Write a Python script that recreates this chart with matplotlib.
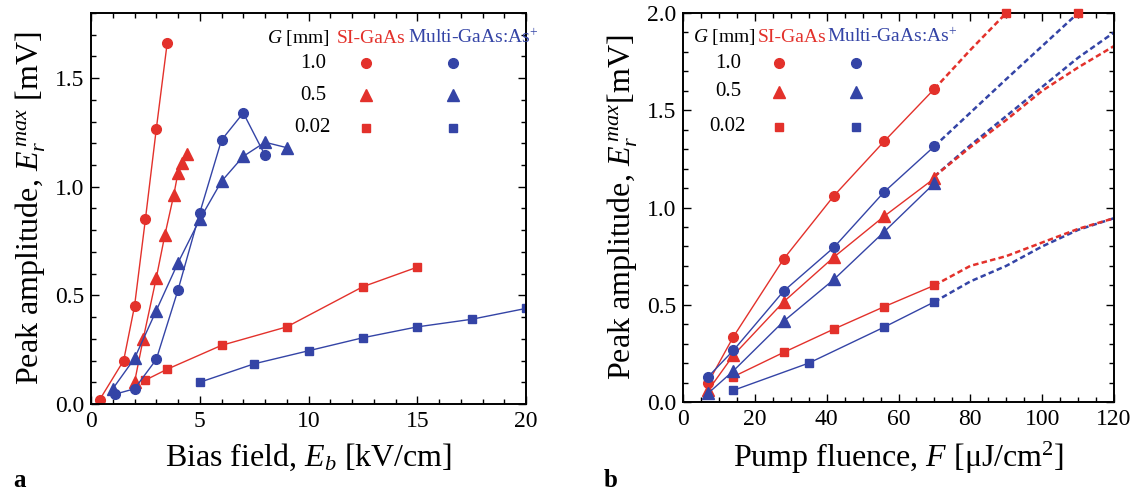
import matplotlib.pyplot as plt
from matplotlib.ticker import MultipleLocator

plt.rcParams["font.family"] = ["Liberation Serif", "DejaVu Serif"]
plt.rcParams["mathtext.fontset"] = "custom"
plt.rcParams["mathtext.rm"] = "Liberation Serif"
plt.rcParams["mathtext.it"] = "Liberation Serif:italic"

RED = "#e3312b"
BLUE = "#3444a6"

# ---- panel a: amplitude vs bias field ----
eb_si_10 = [0.4, 1.5, 2.0, 2.5, 3.0, 3.5]
amp_si_10 = [0.02, 0.20, 0.45, 0.85, 1.265, 1.66]
eb_si_05 = [2.0, 2.4, 3.0, 3.4, 3.8, 4.0, 4.2, 4.4]
amp_si_05 = [0.10, 0.30, 0.58, 0.78, 0.96, 1.065, 1.11, 1.15]
eb_si_002 = [2.5, 3.5, 6.0, 9.0, 12.5, 15.0]
amp_si_002 = [0.11, 0.16, 0.27, 0.355, 0.54, 0.63]

eb_mu_10 = [1.1, 2.0, 3.0, 4.0, 5.0, 6.0, 7.0, 8.0]
amp_mu_10 = [0.045, 0.07, 0.205, 0.525, 0.88, 1.215, 1.34, 1.145]
eb_mu_05 = [1.0, 2.0, 3.0, 4.0, 5.0, 6.0, 7.0, 8.0, 9.0]
amp_mu_05 = [0.07, 0.21, 0.43, 0.65, 0.85, 1.025, 1.14, 1.205, 1.18]
eb_mu_002 = [5.0, 7.5, 10.0, 12.5, 15.0, 17.5, 20.0]
amp_mu_002 = [0.10, 0.185, 0.245, 0.305, 0.355, 0.39, 0.44]

# ---- panel b: amplitude vs pump fluence ----
fl = [7, 14, 28, 42, 56, 70]
amp_si_10_b = [0.10, 0.335, 0.735, 1.06, 1.34, 1.61]
amp_si_05_b = [0.06, 0.24, 0.515, 0.745, 0.955, 1.15]
fl_si_002 = [14, 28, 42, 56, 70]
amp_si_002_b = [0.13, 0.255, 0.375, 0.49, 0.60]
amp_mu_10_b = [0.13, 0.265, 0.57, 0.795, 1.08, 1.315]
amp_mu_05_b = [0.045, 0.16, 0.415, 0.63, 0.875, 1.125]
fl_mu_002 = [14, 35, 56, 70]
amp_mu_002_b = [0.06, 0.20, 0.385, 0.515]

# dashed extrapolations
fl_si_10_ext = [70, 80, 90, 100]
amp_si_10_ext = [1.61, 1.81, 2.0, 2.19]
fl_mu_10_ext = [70, 90, 110, 120]
amp_mu_10_ext = [1.315, 1.66, 2.0, 2.17]
fl_05_ext = [70, 80, 90, 100, 110, 120]
amp_si_05_ext = [1.16, 1.31, 1.45, 1.60, 1.72, 1.83]
amp_mu_05_ext = [1.16, 1.32, 1.47, 1.62, 1.77, 1.90]
fl_002_ext = [70, 80, 90, 100, 110, 120]
amp_si_002_ext = [0.60, 0.70, 0.75, 0.82, 0.89, 0.945]
amp_mu_002_ext = [0.515, 0.62, 0.70, 0.80, 0.885, 0.945]
fl_top = [90, 110]
amp_top = [2.0, 2.0]

gap_labels = ["1.0", "0.5", "0.02"]
gap_markers = ["o", "^", "s"]
msize = {"o": 7, "^": 8, "s": 6}

fig = plt.figure(figsize=(11.32, 4.96), dpi=100)
ax1 = fig.add_axes([0.0804, 0.1855, 0.3843, 0.7883])
ax2 = fig.add_axes([0.6034, 0.1895, 0.3807, 0.7843])


def series(ax, x, y, color, m, **kw):
    ax.plot(x, y, color=color, lw=1.0, marker=m, ms=msize[m],
            mec=color, mfc=color, **kw)


series(ax1, eb_si_10, amp_si_10, RED, "o")
series(ax1, eb_si_05, amp_si_05, RED, "^")
series(ax1, eb_si_002, amp_si_002, RED, "s")
series(ax1, eb_mu_10, amp_mu_10, BLUE, "o")
series(ax1, eb_mu_05, amp_mu_05, BLUE, "^")
series(ax1, eb_mu_002, amp_mu_002, BLUE, "s")

dash = (0, (2.2, 1.3))
for x, y, c in [(fl_si_10_ext, amp_si_10_ext, RED),
                (fl_mu_10_ext, amp_mu_10_ext, BLUE),
                (fl_05_ext, amp_mu_05_ext, BLUE),
                (fl_05_ext, amp_si_05_ext, RED),
                (fl_002_ext, amp_mu_002_ext, BLUE),
                (fl_002_ext, amp_si_002_ext, RED)]:
    ax2.plot(x, y, color=c, lw=1.8, ls=dash)

series(ax2, fl, amp_si_10_b, RED, "o")
series(ax2, fl, amp_si_05_b, RED, "^")
series(ax2, fl_si_002, amp_si_002_b, RED, "s")
series(ax2, fl, amp_mu_10_b, BLUE, "o")
series(ax2, fl, amp_mu_05_b, BLUE, "^")
series(ax2, fl_mu_002, amp_mu_002_b, BLUE, "s")
ax2.plot(fl_top, amp_top, ls="none", marker="s", ms=6, color=RED,
         clip_on=False, zorder=5)

for ax in (ax1, ax2):
    ax.tick_params(which="both", direction="in", top=True, right=True,
                   labelsize=17, width=1.0, pad=5)
    ax.tick_params(which="major", length=6)
    ax.tick_params(which="minor", length=3.5)
    for s in ax.spines.values():
        s.set_linewidth(1.4)

ax1.set_xlim(0, 20)
ax1.set_ylim(0, 1.8)
ax1.xaxis.set_major_locator(MultipleLocator(5))
ax1.xaxis.set_minor_locator(MultipleLocator(1))
ax1.yaxis.set_major_locator(MultipleLocator(0.5))
ax1.yaxis.set_minor_locator(MultipleLocator(0.1))
ax1.yaxis.set_major_formatter(lambda v, p: f"{v:.1f}")
ax1.set_xlabel(r"Bias field, $E_b$ [kV/cm]", fontsize=23, labelpad=7)
ax1.set_ylabel(r"Peak amplitude, $E_r^{\,max}$ [mV]", fontsize=23, labelpad=5)

ax2.set_xlim(0, 120)
ax2.set_ylim(0, 2.0)
ax2.xaxis.set_major_locator(MultipleLocator(20))
ax2.xaxis.set_minor_locator(MultipleLocator(5))
ax2.yaxis.set_major_locator(MultipleLocator(0.5))
ax2.yaxis.set_minor_locator(MultipleLocator(0.1))
ax2.yaxis.set_major_formatter(lambda v, p: f"{v:.1f}")
ax2.set_xlabel(r"Pump fluence, $F$ [$\mathrm{\mu}$J/cm$^2$]", fontsize=23, labelpad=7)
ax2.set_ylabel(r"Peak amplitude, $E_r^{\,max}$[mV]", fontsize=23, labelpad=5)

# legends (text + markers in axes fractions)
legend_layout = [
    # ax, header y, G x, G ha, SI x, multi x, label x, row ys, red x, blue x
    (ax1, 0.936, 0.549, "right", 0.566, 0.729, 0.510, [0.872, 0.790, 0.706], 0.632, 0.832),
    (ax2, 0.938, 0.023, "left", 0.174, 0.334, 0.104, [0.871, 0.797, 0.707], 0.223, 0.401),
]
for ax, hy, gx, gha, sx, mx, lx, rows, rx, bx in legend_layout:
    tr = ax.transAxes
    ax.text(gx, hy, r"$G$ [mm]", transform=tr, ha=gha, va="center", fontsize=14)
    ax.text(sx, hy, "SI-GaAs", transform=tr, ha="left", va="center",
            fontsize=14, color=RED)
    ax.text(mx, hy, r"Multi-GaAs:As$^{\!+}$", transform=tr, ha="left",
            va="center", fontsize=14, color=BLUE)
    for lab, m, ry in zip(gap_labels, gap_markers, rows):
        ax.text(lx, ry, lab, transform=tr, ha="center", va="center", fontsize=15)
        ax.plot([rx], [ry], marker=m, ms=msize[m], color=RED, transform=tr)
        ax.plot([bx], [ry], marker=m, ms=msize[m], color=BLUE, transform=tr)

fig.text(0.012, 0.008, "a", fontsize=18, fontweight="bold", ha="left", va="bottom")
fig.text(0.533, 0.008, "b", fontsize=18, fontweight="bold", ha="left", va="bottom")

fig.savefig("out.png", dpi=100)
